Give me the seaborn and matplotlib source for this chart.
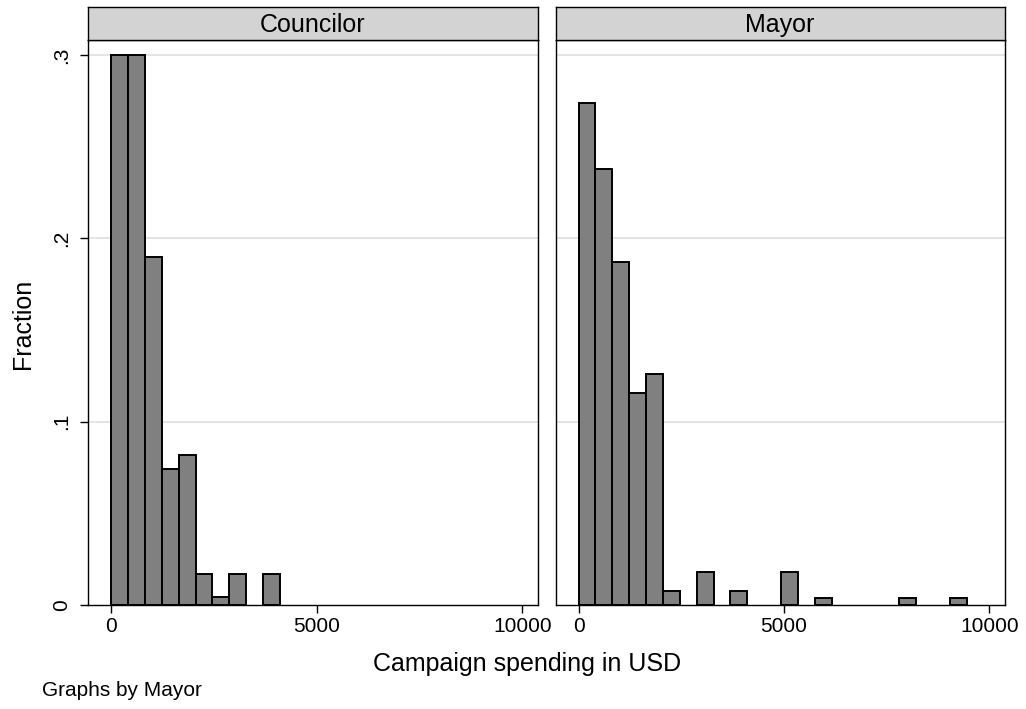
import numpy as np
import pandas as pd
import matplotlib
matplotlib.use("Agg")
import matplotlib.pyplot as plt
import seaborn as sns

# Histogram of campaign spending by office (fraction of candidates per bin)
bin_width = 411
councilor_frac = [0.300, 0.300, 0.190, 0.074, 0.082, 0.017, 0.0045, 0.017, 0.0, 0.017]
mayor_frac = [0.274, 0.238, 0.187, 0.1155, 0.126, 0.0074, 0.0, 0.018, 0.0, 0.0074,
              0.0, 0.0, 0.018, 0.0, 0.0036, 0.0, 0.0, 0.0, 0.0, 0.0036,
              0.0, 0.0, 0.0036]
panel_titles = ["Councilor", "Mayor"]
x_ticks = [0, 5000, 10000]
y_ticks = [0, 0.1, 0.2, 0.3]
y_ticklabels = ["0", ".1", ".2", ".3"]

sns.set_theme(style="white")
plt.rcParams["font.family"] = ["Liberation Sans", "DejaVu Sans"]
plt.rcParams["text.color"] = "black"
plt.rcParams["xtick.color"] = "black"
plt.rcParams["ytick.color"] = "black"
plt.rcParams["axes.labelcolor"] = "black"

W, H = 1026, 709
fig = plt.figure(figsize=(W / 100, H / 100), dpi=100)
fig.patch.set_facecolor("white")

def frac_box(x0, y0, x1, y1):
    # pixel box (top-left origin) -> figure fraction rect
    return [x0 / W, (H - y1) / H, (x1 - x0) / W, (y1 - y0) / H]

panels = [
    (panel_titles[0], councilor_frac, 88, 537.5),
    (panel_titles[1], mayor_frac, 555.5, 1004.5),
]
plot_top, plot_bottom = 40, 605
strip_top = 7
xlim = (-560, 10370)
ylim = (0, 0.3082)

axes = []
for i, (title, fracs, x0, x1) in enumerate(panels):
    ax = fig.add_axes(frac_box(x0, plot_top, x1, plot_bottom))
    fr = np.asarray(fracs)
    n_bins = len(fr)
    centers = (np.arange(n_bins) + 0.5) * bin_width
    df = pd.DataFrame({"spending": centers, "fraction": fr})
    df = df[df["fraction"] > 0]
    for yt in y_ticks[1:]:
        ax.axhline(yt, color="#dcdcdc", lw=1.1, zorder=0)
    sns.histplot(data=df, x="spending", weights="fraction",
                 binwidth=bin_width, binrange=(0, n_bins * bin_width),
                 stat="count", color="#808080", alpha=1.0,
                 edgecolor="black", linewidth=1.4, ax=ax, zorder=2)
    # empty bins are not drawn
    for p in ax.patches:
        if p.get_height() <= 0:
            p.set_visible(False)
    ax.set_xlim(*xlim)
    ax.set_ylim(*ylim)
    ax.set_xlabel("")
    ax.set_ylabel("")
    ax.set_xticks(x_ticks)
    ax.set_xticklabels([str(t) for t in x_ticks], fontsize=15)
    ax.tick_params(axis="x", direction="out", length=6, width=1, color="black",
                   labelcolor="black", bottom=True, pad=3)
    if i == 0:
        ax.set_yticks(y_ticks)
        ax.set_yticklabels(y_ticklabels, fontsize=15, rotation=90, va="center")
        ax.tick_params(axis="y", direction="out", length=6, width=1,
                       color="black", labelcolor="black", left=True, pad=6)
    else:
        ax.set_yticks([])
    for sp in ax.spines.values():
        sp.set_color("black")
        sp.set_linewidth(1.0)
    ax.grid(False)
    axes.append(ax)

    # facet strip
    sax = fig.add_axes(frac_box(x0, strip_top, x1, plot_top))
    sax.set_facecolor("#d3d3d3")
    sax.set_xticks([])
    sax.set_yticks([])
    for sp in sax.spines.values():
        sp.set_color("black")
        sp.set_linewidth(1.0)
    sax.text(0.5, 0.45, title, ha="center", va="center", fontsize=18,
             color="black", transform=sax.transAxes)

fig.text(23 / W, 1 - 324 / H, "Fraction", rotation=90, ha="center",
         va="center", fontsize=18, color="black")
fig.text(527 / W, 1 - 664 / H, "Campaign spending in USD", ha="center",
         va="center", fontsize=18, color="black")
fig.text(42 / W, 1 - 690 / H, "Graphs by Mayor", ha="left", va="center",
         fontsize=15, color="black")

fig.savefig("out.png", dpi=100, facecolor="white")
